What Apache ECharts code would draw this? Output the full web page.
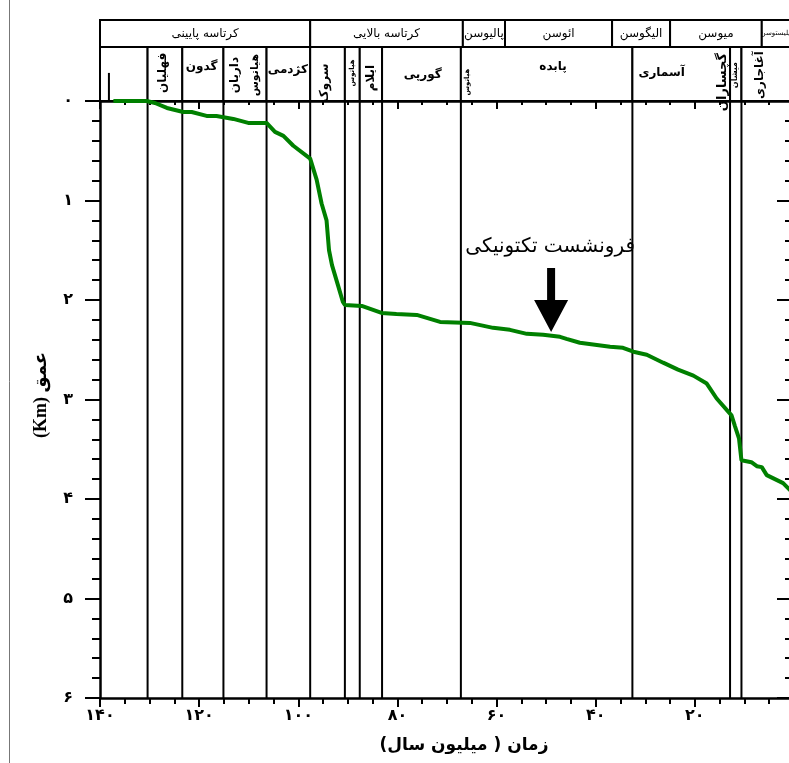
<!DOCTYPE html>
<html><head><meta charset="utf-8">
<script src="https://cdn.jsdelivr.net/npm/echarts@6/dist/echarts.min.js"></script>
<style>html,body{margin:0;padding:0;background:#fff}#c{width:789px;height:763px}</style>
</head><body><div id="c"></div>
<script>
// ---------------- data ----------------
const ageMa   = [137.3,130.6,128.9,126.5,123.2,121.5,118.5,116.5,113.1,110.1,106.4,104.7,103.0,101.0,97.6,96.3,95.3,94.3,93.8,93.2,92.0,91.0,90.6,87.2,83.2,80.2,76.1,71.4,65.4,60.7,57.3,53.9,50.6,47.2,45.9,43.2,37.1,34.5,32.4,29.7,26.4,23.4,20.3,17.6,15.6,12.6,11.9,11.1,10.6,8.6,7.5,6.5,5.5,2.2,0.8,0];
const depthKm = [0,0,0.02,0.07,0.11,0.11,0.15,0.15,0.18,0.22,0.22,0.31,0.35,0.45,0.58,0.79,1.03,1.20,1.50,1.65,1.85,2.02,2.05,2.06,2.13,2.14,2.15,2.22,2.23,2.28,2.30,2.34,2.35,2.37,2.39,2.43,2.47,2.48,2.52,2.55,2.63,2.70,2.76,2.84,2.99,3.16,3.27,3.39,3.61,3.63,3.67,3.68,3.76,3.84,3.91,3.93];

const formationBoundariesMa = [130.4,123.4,115.1,106.4,97.6,90.6,87.6,83.1,67.2,32.6,12.9,10.6];
const minorBoundaryMa = [138.2];

const epochNames = ['کرتاسه پایینی','کرتاسه بالایی','پالیوسن','ائوسن','الیگوسن','میوسن','پلیستوسن'];
const epochStartMa = [140,97.6,66.8,58.3,36.7,25.0,6.5];
const epochEndMa   = [97.6,66.8,58.3,36.7,25.0,6.5,0];

const formationLabels   = ['فهلیان','گدون','داریان','هیاتوس','کژدمی','سروک','هیاتوس','ایلام','گورپی','هیاتوس','پابده','آسماری','گچساران','میشان','آغاجاری'];
const formationLabelAge = [127.3,119.5,112.8,108.7,102.1,94.6,89.2,85.3,74.9,66.0,48.6,26.7,14.3,11.9,6.9];

const xTickValues = [140,120,100,80,60,40,20];
const yTickValues = [0,1,2,3,4,5,6];

const arrowAgeMa = 49.0, arrowDepthKm = 2.0;
const noteAgeMa = 49.2, noteDepthKm = 1.47;
const noteText = 'فرونشست تکتونیکی';
const xTitle = 'زمان ( میلیون سال)\u200F';
const yTitle = '\u202A(Km) عمق\u202C';

// ---------------- styling ----------------
const FA = "'DejaVu Sans', sans-serif";
const toFa = n => String(n).replace(/\d/g, d => '۰۱۲۳۴۵۶۷۸۹'[d]);
const labelVertical = [1,0,1,1,0,1,1,1,0,1,0,0,1,1,1];
const labelSize     = [12,12,12,11,12,12,7,12,12,7,12,12,13,8,12];
const labelRowY     = [1.04,1.26,0.96,0.96,1.15,0.67,1.04,0.85,0.96,0.70,1.26,1.04,0.70,0.96,0.96];

const chart = echarts.init(document.getElementById('c'), null, {renderer:'canvas'});

const headerCells = [];
epochNames.forEach((n,i)=>headerCells.push([epochStartMa[i], epochEndMa[i], 2, 3]));
const row2Edges = [140].concat(formationBoundariesMa, [0]);
for (let i=0;i<row2Edges.length-1;i++) headerCells.push([row2Edges[i], row2Edges[i+1], 0, 2]);

const axisLineStyle = {color:'#000', width:2.5};
const tickStyle = {color:'#000', width:2};

const option = {
  animation:false,
  backgroundColor:'#fff',
  grid:[
    {left:100, right:-5, top:101, bottom:65, outerBoundsMode:'none', containLabel:false},
    {left:100, right:-5, top:20, height:81, outerBoundsMode:'none', containLabel:false}
  ],
  xAxis:[
    {gridIndex:0, type:'value', min:0, max:140, interval:20, inverse:true, position:'bottom',
     axisLine:{show:true, onZero:false, lineStyle:axisLineStyle},
     axisTick:{show:true, inside:false, length:9, lineStyle:tickStyle},
     minorTick:{show:true, splitNumber:4, length:6, lineStyle:tickStyle},
     axisLabel:{formatter:v => xTickValues.includes(v) ? toFa(v) : '', color:'#000', fontSize:16, fontWeight:'bold', fontFamily:FA, margin:10},
     splitLine:{show:false}, minorSplitLine:{show:false}},
    {gridIndex:0, type:'value', min:0, max:140, interval:20, inverse:true, position:'top',
     axisLine:{show:true, onZero:false, lineStyle:axisLineStyle},
     axisTick:{show:true, inside:true, length:8, lineStyle:tickStyle},
     minorTick:{show:true, splitNumber:4, length:4, lineStyle:tickStyle},
     axisLabel:{show:false}, splitLine:{show:false}},
    {gridIndex:1, type:'value', min:0, max:140, inverse:true, show:false}
  ],
  yAxis:[
    {gridIndex:0, type:'value', min:0, max:6, interval:1, inverse:true, position:'left',
     axisLine:{show:true, onZero:false, lineStyle:axisLineStyle},
     axisTick:{show:true, inside:false, length:15, lineStyle:tickStyle},
     minorTick:{show:true, splitNumber:5, length:8, lineStyle:tickStyle},
     axisLabel:{formatter:v => yTickValues.includes(v) ? toFa(v) : '', color:'#000', fontSize:16, fontWeight:'bold', fontFamily:FA, margin:27},
     splitLine:{show:false}},
    {gridIndex:0, type:'value', min:0, max:6, interval:1, inverse:true, position:'right',
     axisLine:{show:true, onZero:false, lineStyle:axisLineStyle},
     axisTick:{show:true, inside:true, length:17, lineStyle:tickStyle},
     minorTick:{show:true, splitNumber:5, length:9, lineStyle:tickStyle},
     axisLabel:{show:false}, splitLine:{show:false}},
    {gridIndex:1, type:'value', min:0, max:3, show:false}
  ],
  graphic:[
    {type:'line', shape:{x1:9.5, y1:0, x2:9.5, y2:763}, style:{stroke:'#777', lineWidth:1}, silent:true},
    {type:'text', x:464, y:746, style:{text:xTitle, font:"bold 17px 'DejaVu Sans', sans-serif", fill:'#000', align:'center', verticalAlign:'middle', textAlign:'center', textVerticalAlign:'middle'}},
    {type:'text', x:41, y:395, rotation:Math.PI/2, style:{text:yTitle, font:"bold 18px 'Liberation Serif', 'DejaVu Sans', serif", fill:'#000', align:'center', verticalAlign:'middle', textAlign:'center', textVerticalAlign:'middle'}}
  ],
  series:[
    {type:'custom', xAxisIndex:0, yAxisIndex:0, z:1, silent:true, clip:true,
     data: formationBoundariesMa.map(v=>[v]),
     renderItem:(params, api)=>{
       const a = api.coord([api.value(0), 0]), b = api.coord([api.value(0), 6]);
       return {type:'line', shape:{x1:a[0], y1:a[1], x2:b[0], y2:b[1]}, style:{stroke:'#000', lineWidth:2}};
     }},
    {type:'custom', xAxisIndex:2, yAxisIndex:2, z:1, silent:true, clip:false,
     data: headerCells,
     renderItem:(params, api)=>{
       const p0 = api.coord([api.value(0), api.value(3)]);
       const p1 = api.coord([api.value(1), api.value(2)]);
       return {type:'rect', shape:{x:p0[0], y:p0[1], width:p1[0]-p0[0], height:p1[1]-p0[1]},
               style:{fill:'#fff', stroke:'#000', lineWidth:2}};
     }},
    {type:'custom', xAxisIndex:2, yAxisIndex:2, z:2, silent:true,
     data: minorBoundaryMa.map(v=>[v]),
     renderItem:(params, api)=>{
       const a = api.coord([api.value(0), 0]), b = api.coord([api.value(0), 1.04]);
       return {type:'line', shape:{x1:a[0], y1:a[1], x2:b[0], y2:b[1]}, style:{stroke:'#000', lineWidth:2}};
     }},
    {type:'custom', xAxisIndex:2, yAxisIndex:2, z:3, silent:true, clip:false,
     data: epochNames.map((n,i)=>[epochStartMa[i], epochEndMa[i]]),
     renderItem:(params, api)=>{
       const i = params.dataIndex;
       const a = api.coord([api.value(0), 2.5]), b = api.coord([api.value(1), 2.5]);
       const right = Math.min(b[0], 789);
       const small = epochNames[i] === 'پلیستوسن';
       return {type:'text', x:(a[0]+right)/2, y:a[1],
               style:{text:epochNames[i], font:(small?'7px ':'12px ')+FA, fill:'#000',
                      align:'center', verticalAlign:'middle', textAlign:'center', textVerticalAlign:'middle'}};
     }},
    {type:'custom', xAxisIndex:2, yAxisIndex:2, z:3, silent:true, clip:false,
     data: formationLabelAge.map(v=>[v]),
     renderItem:(params, api)=>{
       const i = params.dataIndex;
       const p = api.coord([api.value(0), labelRowY[i]]);
       return {type:'text', x:p[0], y:p[1], rotation: labelVertical[i] ? Math.PI/2 : 0,
               style:{text:formationLabels[i], font:'bold '+labelSize[i]+'px '+FA, fill:'#000',
                      align:'center', verticalAlign:'middle', textAlign:'center', textVerticalAlign:'middle'}};
     }},
    {type:'line', xAxisIndex:0, yAxisIndex:0, z:5, silent:true,
     data: ageMa.map((a,i)=>[a, depthKm[i]]),
     showSymbol:false, symbol:'none',
     lineStyle:{color:'#008000', width:4},
     markPoint:{
       silent:true,
       data:[
         {coord:[arrowAgeMa, arrowDepthKm], symbol:'path://M13,0 L21,0 L21,32 L34,32 L17,64 L0,32 L13,32 Z',
          symbolSize:[34,64], itemStyle:{color:'#000'}, label:{show:false}},
         {coord:[noteAgeMa, noteDepthKm], symbol:'circle', symbolSize:0, itemStyle:{color:'transparent'},
          label:{show:true, position:'inside', formatter:noteText, color:'#000', fontSize:20, fontFamily:FA}}
       ]
     }}
  ]
};
chart.setOption(option);
</script>
</body></html>
